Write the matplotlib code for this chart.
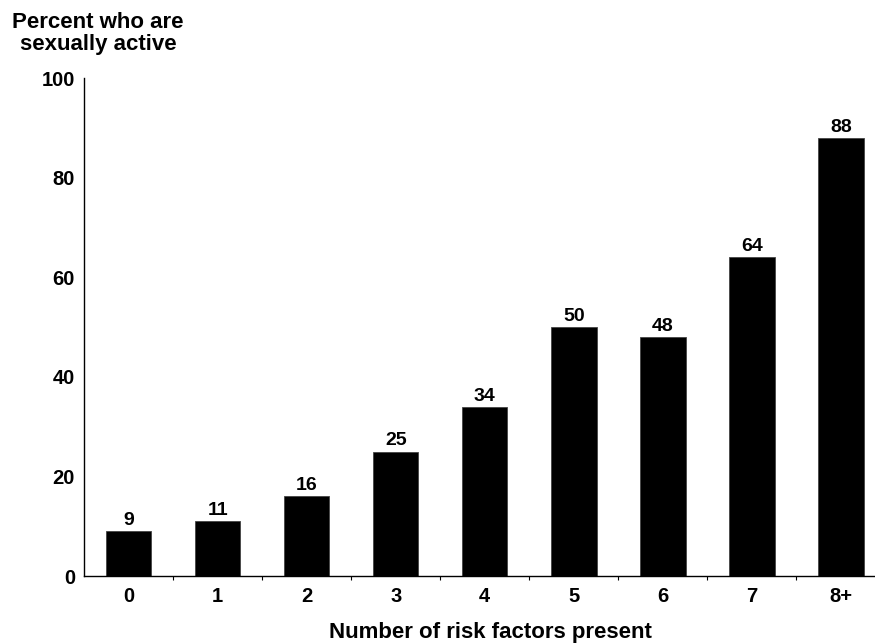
import matplotlib
matplotlib.use("Agg")
import matplotlib.pyplot as plt
import numpy as np

categories = ["0", "1", "2", "3", "4", "5", "6", "7", "8+"]
values = [9, 11, 16, 25, 34, 50, 48, 64, 88]
y_ticks = [0, 20, 40, 60, 80, 100]

plt.rcParams["font.family"] = ["Liberation Sans", "DejaVu Sans"]
plt.rcParams["font.weight"] = "bold"

W, H = 875, 643
fig = plt.figure(figsize=(W / 100, H / 100), dpi=100)
ax = fig.add_axes([84 / W, 67 / H, 801.5 / W, 498 / H])

x = np.arange(len(categories))
ax.bar(x, values, width=0.51, color="black", edgecolor="#444444", linewidth=0.6, zorder=2)

for xi, v in zip(x, values):
    ax.annotate(f"{v}", xy=(xi, v), xytext=(0, 1.5), textcoords="offset points",
                ha="center", va="bottom", fontsize=14, fontweight="bold")

ax.set_xlim(-0.5, len(categories) - 0.5)
ax.set_ylim(0, 100)
ax.set_yticks(y_ticks)
ax.set_yticklabels([str(t) for t in y_ticks], fontsize=14.5, fontweight="bold")
ax.set_xticks(x)
ax.set_xticklabels(categories, fontsize=14.5, fontweight="bold")
ax.set_xticks(np.arange(0.5, len(categories) - 0.5, 1.0), minor=True)

ax.tick_params(axis="y", length=0, pad=6.5)
ax.tick_params(axis="x", which="major", length=0, pad=8)
ax.tick_params(axis="x", which="minor", length=3, width=0.8, direction="out")

for side in ("top", "right"):
    ax.spines[side].set_visible(False)
for side in ("left", "bottom"):
    ax.spines[side].set_linewidth(1.0)

fig.text(98 / W, 1 - 28 / H, "Percent who are", ha="center", va="baseline",
         fontsize=16, fontweight="bold")
fig.text(98 / W, 1 - 50 / H, "sexually active", ha="center", va="baseline",
         fontsize=16, fontweight="bold")
fig.text(490 / W, 1 - 638 / H, "Number of risk factors present", ha="center", va="baseline",
         fontsize=16, fontweight="bold")

fig.savefig("out.png", dpi=100)
